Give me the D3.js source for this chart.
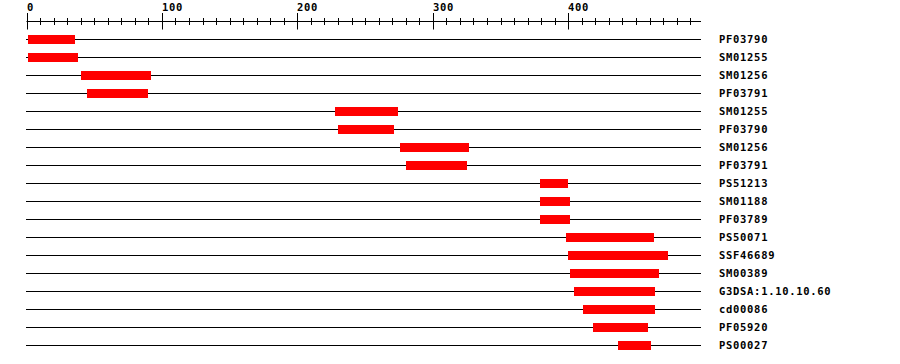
<!DOCTYPE html>
<html>
<head>
<meta charset="utf-8">
<script src="https://cdn.jsdelivr.net/npm/d3@7"></script>
<style>
  body { margin: 0; background: #fff; }
  text { font-family: "DejaVu Sans Mono", monospace; font-weight: bold; font-size: 10.5px; letter-spacing: 0.7px; fill: #000; }
</style>
</head>
<body>
<div id="chart"></div>
<script>
// domain hits, top to bottom
const labels = ["PF03790", "SM01255", "SM01256", "PF03791", "SM01255", "PF03790",
  "SM01256", "PF03791", "PS51213", "SM01188", "PF03789", "PS50071", "SSF46689",
  "SM00389", "G3DSA:1.10.10.60", "cd00086", "PF05920", "PS00027"];
const starts = [1, 1, 40, 45, 228, 230, 276, 280, 379, 379, 379, 398, 400, 401, 404, 411, 418, 437];
const ends   = [36, 38, 92, 90, 274, 271, 327, 325, 400, 401, 401, 463, 474, 467, 464, 464, 459, 461];
const seqLength = 498;
const majorTicks = [0, 100, 200, 300, 400];
const minorTicks = d3.range(0, 491, 10);

const width = 900, height = 364;
const svg = d3.select("#chart").append("svg")
  .attr("width", width).attr("height", height);

const x = d3.scaleLinear().domain([0, seqLength]).range([26.5, 701]);
const y = d3.scaleBand().domain(d3.range(labels.length)).range([30.5, 30.5 + 18 * labels.length]);
const rowY = i => y(i) + 9;

// ruler
const axisY = 21.5;
const ruler = svg.append("g");
ruler.append("line")
  .attr("x1", x(0)).attr("x2", x(seqLength))
  .attr("y1", axisY).attr("y2", axisY)
  .attr("stroke", "#000");
ruler.selectAll(".minor").data(minorTicks).enter().append("line")
  .attr("x1", d => Math.round(x(d)) + 0.5).attr("x2", d => Math.round(x(d)) + 0.5)
  .attr("y1", d => d % 100 === 0 ? axisY - 8.5 : axisY - 3.5)
  .attr("y2", d => d % 100 === 0 ? axisY + 8 : axisY + 3.5)
  .attr("stroke", "#000");
ruler.selectAll("text").data(majorTicks).enter().append("text")
  .attr("x", d => Math.round(x(d)))
  .attr("y", 11)
  .text(d => d);

// rows
const rows = svg.selectAll(".row").data(labels).enter().append("g");
rows.append("line")
  .attr("x1", 26).attr("x2", x(seqLength))
  .attr("y1", (d, i) => rowY(i)).attr("y2", (d, i) => rowY(i))
  .attr("stroke", "#000");
rows.append("rect")
  .attr("x", (d, i) => Math.round(x(starts[i])))
  .attr("width", (d, i) => Math.round(x(ends[i])) - Math.round(x(starts[i])))
  .attr("y", (d, i) => rowY(i) - 4.5)
  .attr("height", 9)
  .attr("fill", "#ff0000");
rows.append("text")
  .attr("x", 719)
  .attr("y", (d, i) => rowY(i) + 3.5)
  .text(d => d);
</script>
</body>
</html>
